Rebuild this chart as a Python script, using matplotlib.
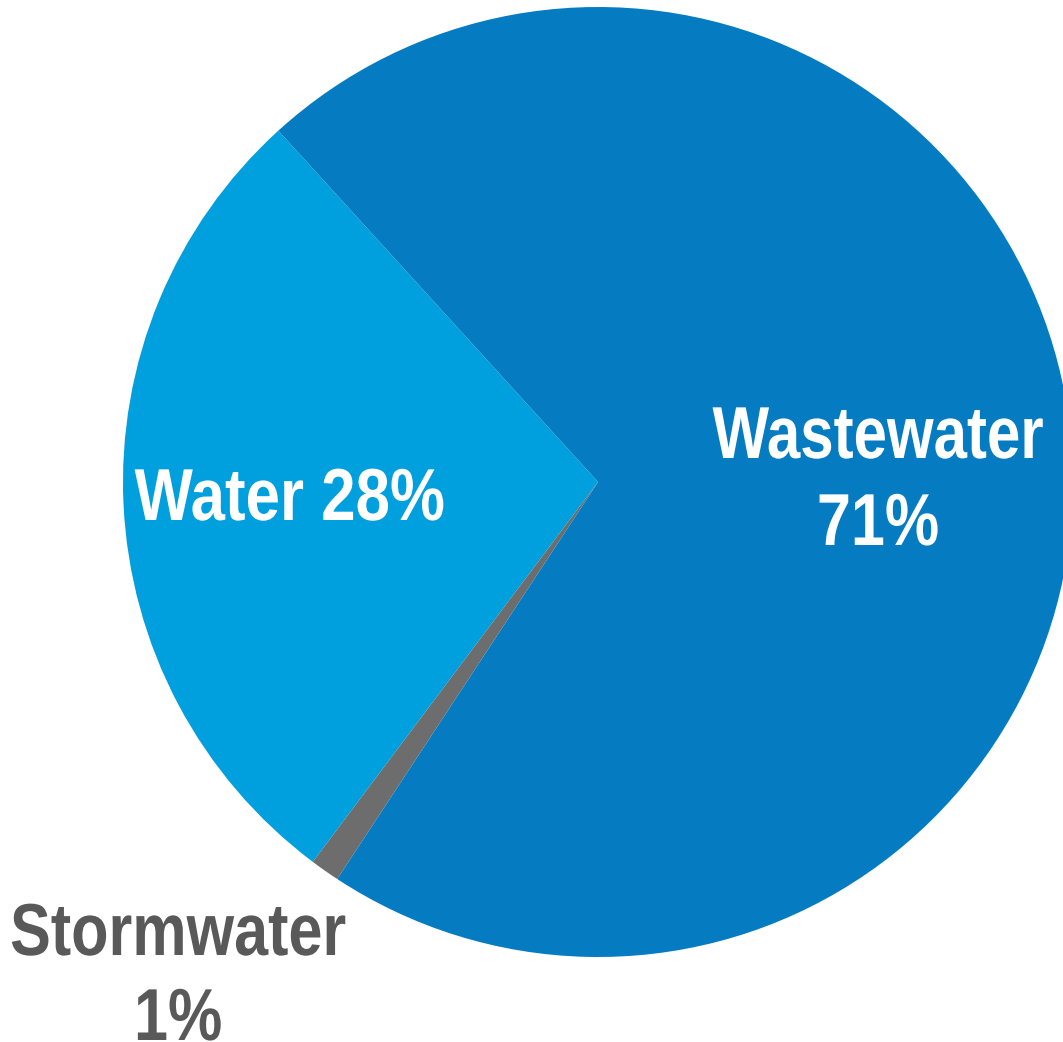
import matplotlib
matplotlib.use("Agg")
import matplotlib.pyplot as plt
from matplotlib import patheffects
from matplotlib.transforms import Affine2D

categories = ["Water", "Stormwater", "Wastewater"]
values = [28, 1, 71]
colors = ["#009FDE", "#6D6D6D", "#057CC2"]

family = ["Liberation Sans", "DejaVu Sans"]


class Condense(patheffects.AbstractPathEffect):
    """Narrow the glyphs horizontally around each line's centre."""

    def __init__(self, sx):
        super().__init__()
        self.sx = sx

    def draw_path(self, renderer, gc, tpath, affine, rgbFace=None):
        ext = tpath.get_extents(affine)
        c = 0.5 * (ext.x0 + ext.x1)
        aff = affine + Affine2D().translate(-c, 0).scale(self.sx, 1).translate(c, 0)
        renderer.draw_path(gc, tpath, aff, rgbFace)


W, H = 1063, 1042
fig = plt.figure(figsize=(W / 100, H / 100), dpi=100)
ax = fig.add_axes([0, 0, 1, 1])
cx, cy, R = 598, 482, 475

ax.pie(values, colors=colors, startangle=132.3, counterclock=True,
       radius=1, center=(0, 0), wedgeprops=dict(linewidth=0))
ax.set_aspect("auto")
ax.set_xlim(-cx / R, (W - cx) / R)
ax.set_ylim((cy - H) / R, cy / R)
ax.axis("off")


def px(x, y):
    return (x - cx) / R, (cy - y) / R


fs = 53


def lab(x, y, s, c, sx=0.82):
    ax.text(*px(x, y), s, ha="center", va="baseline", fontsize=fs,
            fontweight="bold", color=c, family=family,
            path_effects=[Condense(sx)])


lab(878, 458, categories[2], "white", 0.815)
lab(878, 545, f"{values[2]}%", "white", 0.83)
lab(290, 520, f"{categories[0]} {values[0]}%", "white", 0.84)
lab(178, 955, categories[1], "#595959", 0.83)
lab(178, 1040, f"{values[1]}%", "#595959", 0.83)

fig.savefig("out.png", dpi=100)
